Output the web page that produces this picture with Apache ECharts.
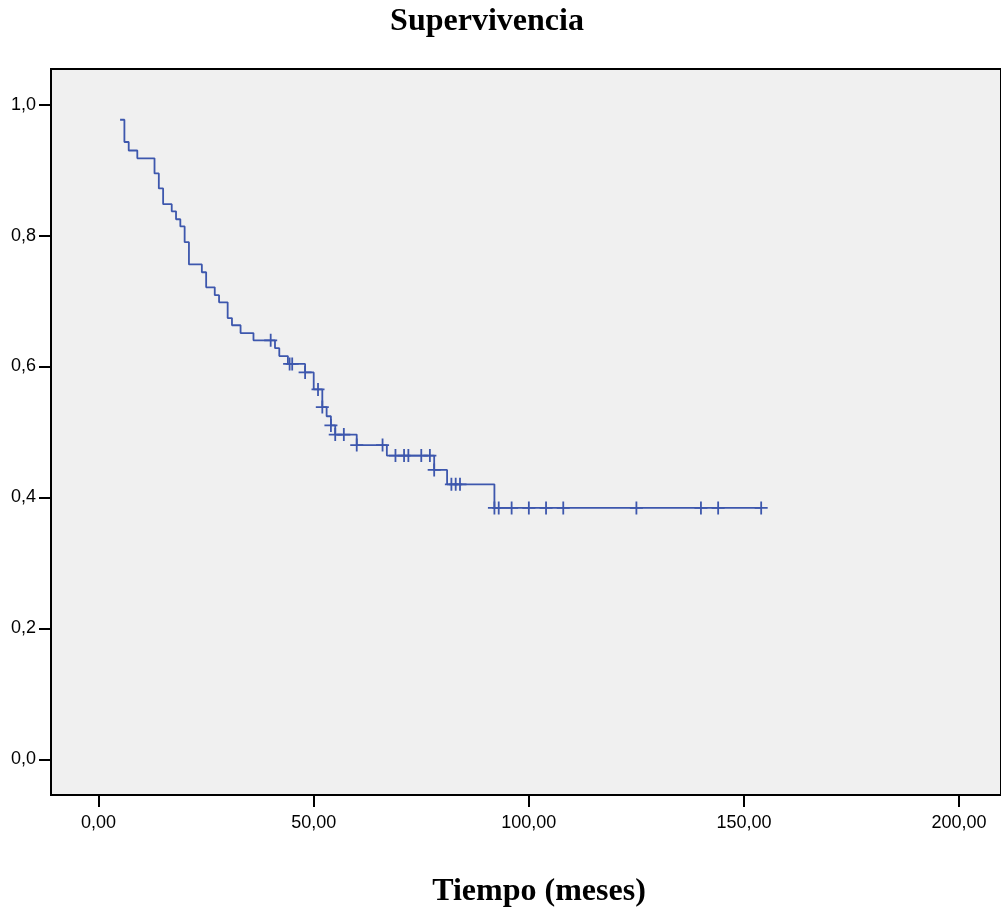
<!DOCTYPE html>
<html>
<head>
<meta charset="utf-8">
<title>Supervivencia</title>
<script src="https://cdn.jsdelivr.net/npm/echarts@6/dist/echarts.min.js"></script>
<style>
  html, body { margin: 0; padding: 0; background: #ffffff; }
  #chart { width: 1001px; height: 916px; }
</style>
</head>
<body>
<div id="chart"></div>
<script>
// Kaplan-Meier estimate: time (months) at which each step occurs and survival afterwards
const stepTimes = [5, 6, 7, 9, 13, 14, 15, 17, 18, 19, 20, 21, 24, 25, 27, 28, 30, 31, 33, 36,
                   41, 42, 44, 48, 50, 52, 53, 54, 55, 60, 67, 78, 81, 92];
const stepSurv = [0.977, 0.943, 0.930, 0.918, 0.895, 0.872, 0.848, 0.837, 0.825, 0.814, 0.790,
                  0.756, 0.744, 0.721, 0.709, 0.698, 0.674, 0.663, 0.651, 0.640, 0.628, 0.616,
                  0.604, 0.591, 0.565, 0.538, 0.524, 0.510, 0.496, 0.480, 0.464, 0.442, 0.420, 0.384];
// last follow-up time
const lastTime = 154;
// censored observations (months)
const censorTimes = [40, 44.4, 45, 48, 51, 52, 54, 55, 57, 60, 66, 69, 71, 72, 75, 77, 78, 82, 83, 84,
                     92, 93, 96, 100, 104, 108, 125, 140, 144, 154];
// axis ticks
const xTicks = [0, 50, 100, 150, 200];
const yTicks = [0, 0.2, 0.4, 0.6, 0.8, 1.0];

const curveColor = '#3d57ad';

// survival level in effect at time t
function survivalAt(t) {
  let s = stepSurv[0];
  for (let i = 0; i < stepTimes.length; i++) {
    if (stepTimes[i] <= t) s = stepSurv[i];
  }
  return s;
}

const curveData = stepTimes.map((t, i) => [t, stepSurv[i]]);
curveData.push([lastTime, stepSurv[stepSurv.length - 1]]);
const censorData = censorTimes.map(t => [t, survivalAt(t)]);

const chart = echarts.init(document.getElementById('chart'), null, { renderer: 'canvas' });
const labelFont = { fontFamily: '"Liberation Sans", Arial, sans-serif', fontSize: 18, color: '#000' };

chart.setOption({
  animation: false,
  backgroundColor: '#ffffff',
  grid: {
    left: 51, top: 69, width: 952, height: 726,
    show: true, backgroundColor: '#f0f0f0', borderColor: '#000', borderWidth: 2
  },
  xAxis: {
    type: 'value',
    min: -11.06, max: 209.74,
    axisLine: { show: true, onZero: false, lineStyle: { color: '#000', width: 2 } },
    axisTick: { show: true, customValues: xTicks, length: 12, lineStyle: { color: '#000', width: 2 } },
    axisLabel: Object.assign({
      customValues: xTicks, margin: 19,
      formatter: v => v.toFixed(2).replace('.', ',')
    }, labelFont),
    splitLine: { show: false }
  },
  yAxis: {
    type: 'value',
    min: -0.0546, max: 1.0545,
    axisLine: { show: true, onZero: false, lineStyle: { color: '#000', width: 2 } },
    axisTick: { show: true, customValues: yTicks, length: 12, lineStyle: { color: '#000', width: 2 } },
    axisLabel: Object.assign({
      customValues: yTicks, margin: 15,
      formatter: v => v.toFixed(1).replace('.', ',')
    }, labelFont),
    splitLine: { show: false }
  },
  series: [
    {
      type: 'line',
      step: 'end',
      data: curveData,
      showSymbol: false,
      lineStyle: { color: curveColor, width: 1.8 },
      z: 3
    },
    {
      type: 'scatter',
      data: censorData,
      symbol: 'path://M5.6,0h1.8v13h-1.8z M0,5.6h13v1.8h-13z',
      symbolSize: 13,
      itemStyle: { color: curveColor, opacity: 1 },
      z: 4
    }
  ],
  graphic: [
    {
      type: 'text', x: 487, y: 22,
      style: {
        text: 'Supervivencia', textAlign: 'center', textVerticalAlign: 'middle',
        font: 'bold 32px "Liberation Serif", "Times New Roman", serif', fill: '#000'
      }
    },
    {
      type: 'text', x: 539, y: 892,
      style: {
        text: 'Tiempo (meses)', textAlign: 'center', textVerticalAlign: 'middle',
        font: 'bold 32px "Liberation Serif", "Times New Roman", serif', fill: '#000'
      }
    }
  ]
});
</script>
</body>
</html>
